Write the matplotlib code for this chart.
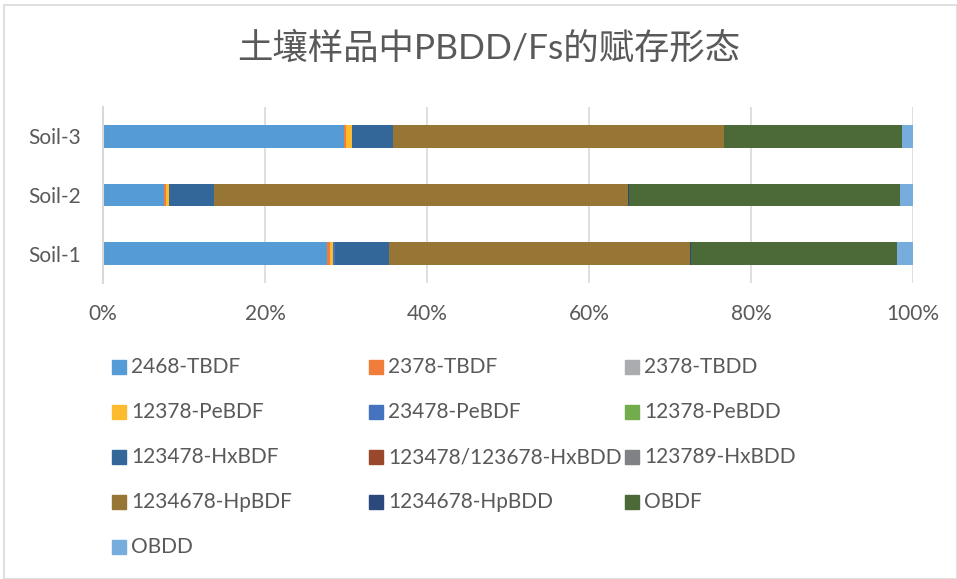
import matplotlib.pyplot as plt
from matplotlib.patches import Rectangle

plt.rcParams['font.family'] = ['Lato', 'Noto Sans CJK SC', 'DejaVu Sans']

samples = ['Soil-1', 'Soil-2', 'Soil-3']
congeners = ['2468-TBDF', '2378-TBDF', '2378-TBDD',
             '12378-PeBDF', '23478-PeBDF', '12378-PeBDD',
             '123478-HxBDF', '123478/123678-HxBDD', '123789-HxBDD',
             '1234678-HpBDF', '1234678-HpBDD', 'OBDF', 'OBDD']
# percent share per sample (Soil-1, Soil-2, Soil-3)
tbdf_2468 = [27.7, 7.5, 29.7]
tbdf_2378 = [0.3, 0.3, 0.3]
tbdd_2378 = [0.0, 0.0, 0.0]
pebdf_12378 = [0.4, 0.4, 0.7]
pebdf_23478 = [0.2, 0.0, 0.0]
pebdd_12378 = [0.0, 0.0, 0.0]
hxbdf_123478 = [6.7, 5.5, 5.05]
hxbdd_123478 = [0.0, 0.0, 0.0]
hxbdd_123789 = [0.0, 0.0, 0.0]
hpbdf_1234678 = [37.2, 51.1, 40.9]
hpbdd_1234678 = [0.1, 0.1, 0.0]
obdf = [25.4, 33.5, 22.0]
obdd = [2.0, 1.6, 1.3]

series = [tbdf_2468, tbdf_2378, tbdd_2378, pebdf_12378, pebdf_23478, pebdd_12378,
          hxbdf_123478, hxbdd_123478, hxbdd_123789, hpbdf_1234678, hpbdd_1234678,
          obdf, obdd]
colors = ['#559BD5', '#F07D3A', '#ABACB0', '#FDBB2F', '#4673C0', '#72AC4D',
          '#336699', '#9A482B', '#808184', '#967535', '#2B497C', '#4C6A37',
          '#76ADDC']
grey = '#595959'

fig = plt.figure(figsize=(9.57, 5.79), dpi=100)
fig.patches.append(Rectangle((0.004, 0.0), 0.996, 0.992, transform=fig.transFigure,
                             fill=False, edgecolor='#D9D9D9', linewidth=1.2))
ax = fig.add_axes([103 / 957, 1 - 283 / 579, 810 / 957, 176 / 579])

left = [0.0] * len(samples)
for vals, col in zip(series, colors):
    ax.barh(range(len(samples)), vals, left=left, height=0.39, color=col, linewidth=0)
    left = [a + b for a, b in zip(left, vals)]

ax.set_xlim(0, 100)
ax.set_ylim(-0.5, 2.5)
ax.set_xticks(range(0, 101, 20))
ax.set_xticklabels([f'{v}%' for v in range(0, 101, 20)])
ax.set_yticks(range(len(samples)))
ax.set_yticklabels(samples)
ax.tick_params(axis='both', length=0, labelsize=15, colors=grey)
ax.tick_params(axis='x', pad=15)
ax.tick_params(axis='y', pad=16)
ax.grid(axis='x', color='#D9D9D9', linewidth=1.2)
ax.set_axisbelow(True)
for s in ['top', 'right', 'bottom']:
    ax.spines[s].set_visible(False)
ax.spines['left'].set_color('#D9D9D9')
ax.spines['left'].set_linewidth(1.5)

fig.text(489 / 957, 1 - 48 / 579, '土壤样品中PBDD/Fs的赋存形态', ha='center', va='center',
         fontsize=25.5, color=grey)

# legend, row-major like the original
col_x = [112, 369, 625]
row_y = [367, 412, 457, 502, 547]
for i, (name, col) in enumerate(zip(congeners, colors)):
    r, c = divmod(i, 3)
    x = col_x[c] / 957
    y = 1 - row_y[r] / 579
    fig.patches.append(Rectangle((x, y - 7 / 579), 14 / 957, 14 / 579,
                                 transform=fig.transFigure, color=col))
    fig.text(x + 19 / 957, y, name, ha='left', va='center', fontsize=15, color=grey)

fig.savefig('out.png', dpi=100)
